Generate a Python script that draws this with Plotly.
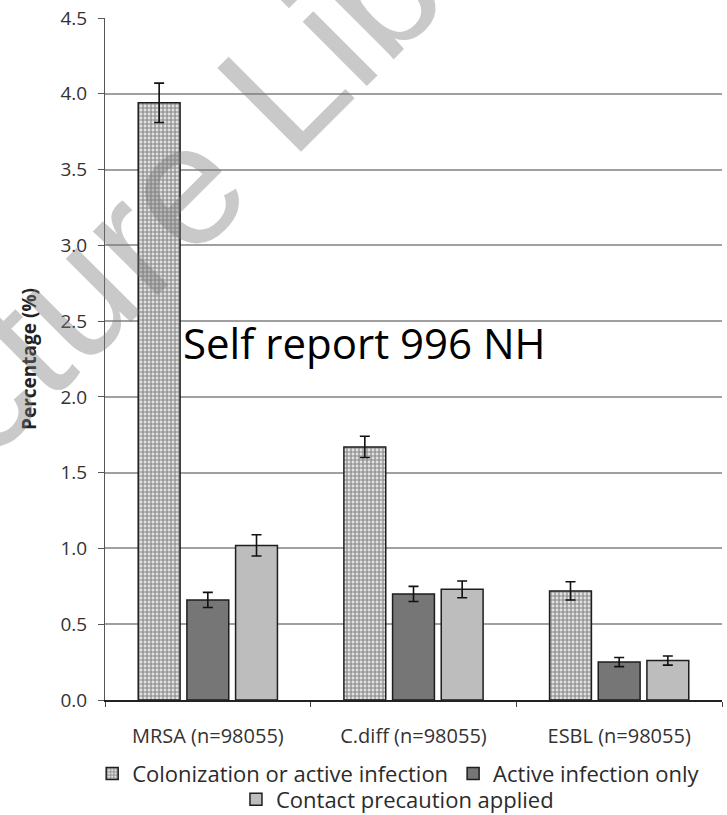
import plotly.graph_objects as go

# Organism categories on the x axis
categories = ["MRSA (n=98055)", "C.diff (n=98055)", "ESBL (n=98055)"]

# Percentage of residents per measure, with 95% CI half-widths
colonization = [3.94, 1.67, 0.72]
colonization_err = [0.13, 0.07, 0.06]
active_only = [0.66, 0.70, 0.25]
active_err = [0.05, 0.05, 0.03]
contact_prec = [1.02, 0.73, 0.26]
contact_err = [0.07, 0.055, 0.03]

series_names = [
    "Colonization or active infection",
    "Active infection only",
    "Contact precaution applied",
]

y_ticks = [0.0, 0.5, 1.0, 1.5, 2.0, 2.5, 3.0, 3.5, 4.0, 4.5]

FONT = "Open Sans"
outline = dict(color="#1e1e1e", width=1.5)
err_style = dict(type="data", color="#111111", thickness=1.6, width=5)

fig = go.Figure()

fig.add_trace(go.Bar(
    name=series_names[0], x=categories, y=colonization,
    error_y=dict(array=colonization_err, **err_style),
    marker=dict(
        color="#e0e0e0",
        line=outline,
        pattern=dict(shape="+", fgcolor="#2a2a2a", bgcolor="#e2e2e2",
                     size=4, solidity=0.5),
    ),
    legend="legend",
))
fig.add_trace(go.Bar(
    name=series_names[1], x=categories, y=active_only,
    error_y=dict(array=active_err, **err_style),
    marker=dict(color="#767676", line=outline),
    legend="legend",
))
fig.add_trace(go.Bar(
    name=series_names[2], x=categories, y=contact_prec,
    error_y=dict(array=contact_err, **err_style),
    marker=dict(color="#bdbdbd", line=outline),
    legend="legend2",
))

# Annotation text inside the plot
fig.add_annotation(
    text="Self report 996 NH", xref="paper", yref="paper",
    x=(364 - 105) / 617, y=(700 - 342) / 682,
    showarrow=False, font=dict(family=FONT, size=42, color="#000000"),
    xanchor="center", yanchor="middle",
)

# Diagonal library stamp across the upper left
fig.add_annotation(
    text="Picture Library", xref="paper", yref="paper",
    x=(228 - 105) / 617, y=(700 - 140) / 682, showarrow=False, textangle=-45,
    font=dict(family="Liberation Sans", size=172, color="rgba(120,120,120,0.40)"),
    xanchor="center", yanchor="middle",
)

fig.update_layout(
    width=727, height=815,
    margin=dict(l=105, r=5, t=18, b=115, autoexpand=False),
    paper_bgcolor="white", plot_bgcolor="white",
    barmode="group", bargap=0.29, bargroupgap=0.14,
    font=dict(family=FONT, color="#2b2b2b"),
    showlegend=True,
    legend=dict(
        orientation="h", x=0.476, y=-0.108, xanchor="center", yanchor="middle",
        font=dict(family=FONT, size=22, color="#2b2b2b"),
        itemwidth=30, tracegroupgap=0, bgcolor="rgba(0,0,0,0)",
    ),
    legend2=dict(
        orientation="h", x=0.474, y=-0.146, xanchor="center", yanchor="middle",
        font=dict(family=FONT, size=22, color="#2b2b2b"),
        itemwidth=30, bgcolor="rgba(0,0,0,0)",
    ),
)

fig.update_yaxes(
    range=[0, 4.5], tickvals=y_ticks, ticktext=[f"{v:.1f}" for v in y_ticks],
    showgrid=True, gridcolor="#a0a0a0", gridwidth=1.6,
    showline=True, linecolor="#555555", linewidth=1.2,
    ticks="outside", ticklen=6, tickcolor="#555555",
    tickfont=dict(family=FONT, size=19, color="#333333"),
    ticklabelstandoff=7,
    zeroline=False,
    title=dict(text="<b>Percentage (%)</b>", font=dict(family=FONT, size=19, color="#222222"),
               standoff=18),
)
fig.update_xaxes(
    showline=True, linecolor="#222222", linewidth=1.5,
    ticks="outside", ticklen=5, tickcolor="#444444", tickson="boundaries",
    tickfont=dict(family=FONT, size=20, color="#333333"),
    ticklabelstandoff=17,
    showgrid=False,
)

fig.write_html("out.html")
